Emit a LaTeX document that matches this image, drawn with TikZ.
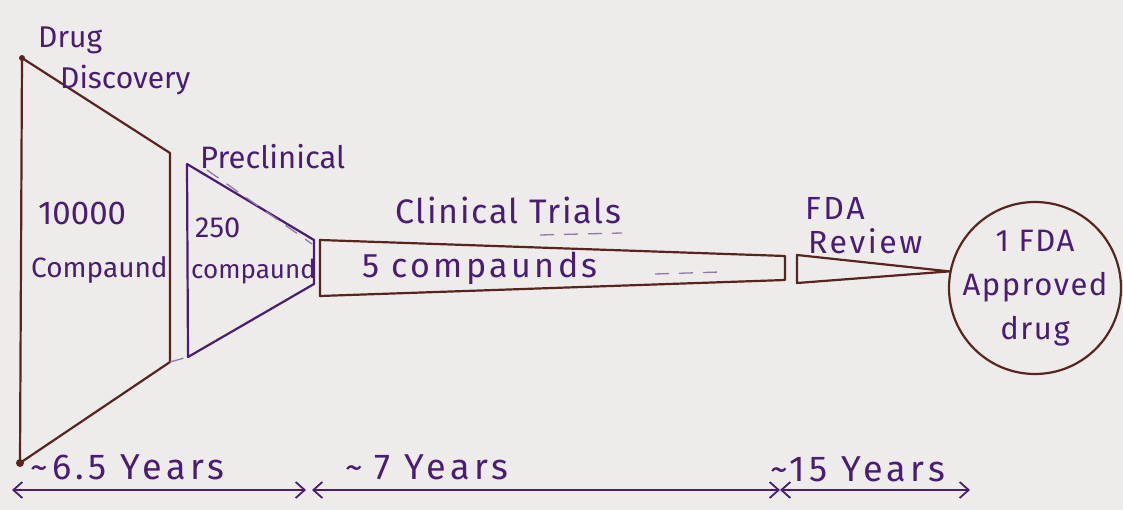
\documentclass[tikz,border=0pt]{standalone}
\usepackage{fontspec}
\setmainfont{Fira Sans}
\usetikzlibrary{arrows.meta,calc}
\definecolor{paper}{RGB}{238,236,234}
\definecolor{ink}{RGB}{74,28,118}
\definecolor{brn}{RGB}{90,36,30}
\newcommand{\fsz}[2]{\fontsize{#1}{#2}\selectfont}
\tikzset{
  lbl/.style={text=ink, inner sep=0pt},
  shp/.style={draw=brn, line width=2.2pt, line join=round},
  pshp/.style={draw=ink, line width=2.2pt, line join=round},
  span/.style={draw=ink, line width=1.8pt, {Straight Barb[length=9pt,width=16pt]}-{Straight Barb[length=9pt,width=16pt]}},
  hint/.style={draw=ink!60, line width=1.3pt, dash pattern=on 14pt off 10pt}
}
\begin{document}
\begin{tikzpicture}[x=1pt,y=-1pt]
\fill[paper] (0,0) rectangle (1123,510);
\useasboundingbox (0,0) rectangle (1123,510);
% Drug discovery funnel
\coordinate (dTL) at (22,58);
\coordinate (dBL) at (20,463);
\coordinate (dTR) at (170,153);
\coordinate (dBR) at (170,362);
\draw[shp] (dTL) -- (dTR) -- (dBR) -- (dBL) -- cycle;
\fill[brn] (dTL) circle (3pt) (dBL) circle (4pt);
% Preclinical funnel
\coordinate (pTL) at (187,164);
\coordinate (pBL) at (188,357);
\coordinate (pTR) at (314,240);
\coordinate (pBR) at (314,284);
\draw[pshp] (pTL) -- (pTR) -- (pBR) -- (pBL) -- cycle;
\draw[hint] ($(pTL)+(20,6)$) -- ($(pTR)+(-2,4)$);
\draw[hint] (dBR) -- (pBL);
% Clinical trials bar
\coordinate (cTL) at (320,240);
\coordinate (cTR) at (785,256);
\coordinate (cBR) at (785,280);
\coordinate (cBL) at (320,296);
\draw[shp] (cTL) -- (cTR) -- (cBR) -- (cBL) -- cycle;
\draw[hint] (655,274) -- (720,272);
% FDA approved circle
\node[circle, draw=brn, line width=2.2pt, minimum size=172pt, inner sep=0pt] (appr) at (1035,288) {};
% FDA review wedge
\coordinate (fTL) at (797,255);
\coordinate (fBL) at (797,283);
\draw[shp] (fTL) -- (appr.169) -- (fBL) -- cycle;
% Labels
\node[lbl, anchor=west, font=\fsz{30}{32}] (t1) at (38,40) {Drug};
\node[lbl, anchor=west, font=\fsz{30}{32}] (t2) at (60,80) {Discovery};
\node[lbl, anchor=west, font=\fsz{31}{33}] (t3) at (200,157) {Preclinical};
\node[lbl, anchor=west, font=\fsz{33}{35}] (t4) at (38,213) {10000};
\node[lbl, anchor=west, font=\fsz{28}{30}] (t5) at (31,270) {Compaund};
\node[lbl, anchor=west, font=\fsz{29}{30}] (t6) at (195,228) {250};
\node[lbl, anchor=west, font=\fsz{26}{30}] (t7) at (191,272) {compaund};
\node[lbl, anchor=west, font=\fsz{34}{36}\addfontfeature{LetterSpace=5}] (t8) at (395,210) {Clinical Trials};
\draw[hint] (540,235) -- (622,233);
\node[lbl, anchor=west, font=\fsz{34}{36}\addfontfeature{LetterSpace=10}] (t9) at (362,268) {5 compaunds};
\node[lbl, anchor=west, font=\fsz{32}{34}\addfontfeature{LetterSpace=8}] (t10) at (805,208) {FDA};
\node[lbl, anchor=west, font=\fsz{32}{34}\addfontfeature{LetterSpace=8}] (t11) at (808,241) {Review};
\node[lbl, align=center, font=\fsz{31}{44}\addfontfeature{LetterSpace=5}] (t12) at (1035,288) {1 FDA\\Approved\\drug};
% Time spans
\coordinate (s0) at (12,490);
\coordinate (s1) at (306,490);
\coordinate (s2) at (312,490);
\coordinate (s3) at (780,490);
\coordinate (s4) at (970,490);
\draw[span] (s0) -- (s1);
\draw[span] (s2) -- (s3);
\draw[span] (s3) -- (s4);
\node[lbl, anchor=west, font=\fsz{36}{38}\addfontfeature{LetterSpace=12}] (y1) at (30,467) {\textasciitilde6.5 Years};
\node[lbl, anchor=west, font=\fsz{36}{38}\addfontfeature{LetterSpace=12}] (y2) at (345,467) {\textasciitilde\hspace{12pt}7 Years};
\node[lbl, anchor=west, font=\fsz{36}{38}\addfontfeature{LetterSpace=12}] (y3) at (770,469) {\textasciitilde15 Years};
\end{tikzpicture}
\end{document}
